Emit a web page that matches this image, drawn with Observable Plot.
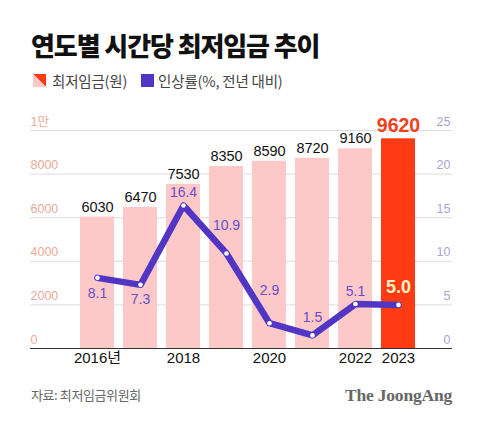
<!DOCTYPE html>
<html><head><meta charset="utf-8">
<script src="https://cdn.jsdelivr.net/npm/d3@7"></script>
<script src="https://cdn.jsdelivr.net/npm/@observablehq/plot@0.6"></script>
<style>
body{margin:0;background:#fff;width:480px;height:424px;position:relative;overflow:hidden;font-family:"Liberation Sans","Noto Sans CJK KR",sans-serif;}
#title{position:absolute;left:31px;top:30px;font-family:"Noto Sans CJK KR";font-weight:900;font-size:26px;line-height:30px;letter-spacing:-1.1px;color:#111;white-space:nowrap;}
#legend{position:absolute;left:33px;top:71px;height:18px;display:flex;align-items:center;font-family:"Noto Sans CJK KR";font-size:14.5px;letter-spacing:-0.2px;color:#444;white-space:nowrap;}
#legend .sw{width:13px;height:13px;display:inline-block;}
#chart{position:absolute;left:0;top:100px;}
#source{position:absolute;left:31px;top:385px;font-family:"Noto Sans CJK KR";font-size:13px;line-height:20px;letter-spacing:-0.4px;color:#666;white-space:nowrap;}
#brand{position:absolute;right:28px;top:384px;font-family:"Liberation Serif","DejaVu Serif",serif;font-weight:bold;font-size:17.5px;line-height:22px;color:#666;white-space:nowrap;letter-spacing:-0.2px;}
</style></head>
<body>
<div id="title">연도별 시간당 최저임금 추이</div>
<div id="legend">
  <svg class="sw" viewBox="0 0 13 13"><polygon points="0,0 13,0 13,13" fill="#fe3b12"/><polygon points="0,0 13,13 0,13" fill="#fcc9c8"/></svg>
  <span style="margin-left:6px">최저임금(원)</span>
  <span class="sw" style="background:#5136c6;margin-left:14px"></span>
  <span style="margin-left:4px">인상률(%, 전년 대비)</span>
</div>
<div id="chart"></div>
<div id="source">자료: 최저임금위원회</div>
<div id="brand">The JoongAng</div>
<script>
const years = ["2016","2017","2018","2019","2020","2021","2022","2023"];
const wages = [6030, 6470, 7530, 8350, 8590, 8720, 9160, 9620];
const rates = [8.1, 7.3, 16.4, 10.9, 2.9, 1.5, 5.1, 5.0];
const yearLabels = ["2016년", "", "2018", "", "2020", "", "2022", "2023"];
const wageTicks = [0, 2000, 4000, 6000, 8000, 10000];
const wageTickLabels = ["0", "2000", "4000", "6000", "8000", "1만"];
const rateTicks = [0, 5, 10, 15, 20, 25];

const rows = years.map((y, i) => ({year: y, wage: wages[i], rate: rates[i], label: yearLabels[i]}));
const K = 10000 / 25; // rate axis shares the wage scale: 25% ↔ 10000
const rateY = d => d.rate * K;
const pick = ys => rows.filter(d => ys.includes(d.year));

const pink = "#fcc9c8", red = "#fe3b12", purple = "#5136c6", labPurple = "#6b4cc8";
const rateLabel = (ys, dy) => Plot.text(pick(ys), {x: "year", y: rateY, text: d => d.rate.toFixed(1), dy, fill: labPurple, fontSize: 14});

const chart = Plot.plot({
  width: 480, height: 280,
  marginTop: 30, marginBottom: 32, marginLeft: 30, marginRight: 28,
  style: {fontFamily: '"Liberation Sans","Noto Sans CJK KR",sans-serif', background: "transparent"},
  x: {type: "band", domain: years, range: [73.3, 421.7], paddingInner: 0.2, paddingOuter: 0.1, axis: null},
  y: {domain: [0, 10000], axis: null},
  marks: [
    Plot.ruleY(wageTicks.slice(1), {stroke: "#dcdcdc", strokeWidth: 1}),
    Plot.barY(rows.filter(d => d.year !== "2023"), {x: "year", y: "wage", fill: pink}),
    Plot.barY(rows.filter(d => d.year === "2023"), {x: "year", y: "wage", fill: red}),
    Plot.ruleY([0], {stroke: "#333", strokeWidth: 1.2}),
    Plot.text(wageTicks, {y: d => d, text: (d, i) => wageTickLabels[i], frameAnchor: "left", textAnchor: "start", dy: -9, fill: "#eca997", fontSize: 12.5}),
    Plot.text(rateTicks, {y: d => d * K, text: d => String(d), frameAnchor: "right", textAnchor: "end", dx: -2, dy: -9, fill: "#a9a5d2", fontSize: 12.5}),
    Plot.line(rows, {x: "year", y: rateY, stroke: purple, strokeWidth: 6.5, strokeLinejoin: "round", strokeLinecap: "round"}),
    Plot.dot(rows, {x: "year", y: rateY, r: 2.3, fill: "white"}),
    Plot.text(rows.filter(d => d.year !== "2023"), {x: "year", y: "wage", text: d => String(d.wage), dy: -10, fill: "#111", fontSize: 14.5}),
    Plot.text(rows.filter(d => d.year === "2023"), {x: "year", y: "wage", text: d => String(d.wage), dy: -13, fill: "#f0401c", fontSize: 19.5, fontWeight: "bold"}),
    rateLabel(["2016"], 16),
    rateLabel(["2017"], 15),
    rateLabel(["2018", "2022"], -13),
    rateLabel(["2019"], -28),
    rateLabel(["2020"], -33),
    rateLabel(["2021"], -18),
    Plot.text(pick(["2023"]), {x: "year", y: rateY, text: d => d.rate.toFixed(1), dy: -18, fill: "#fff3c4", fontSize: 18, fontWeight: "bold"}),
    Plot.text(rows, {x: "year", text: "label", frameAnchor: "bottom", dy: 14, fill: "#111", fontSize: 15})
  ]
});
document.getElementById("chart").appendChild(chart);
</script>
</body></html>
